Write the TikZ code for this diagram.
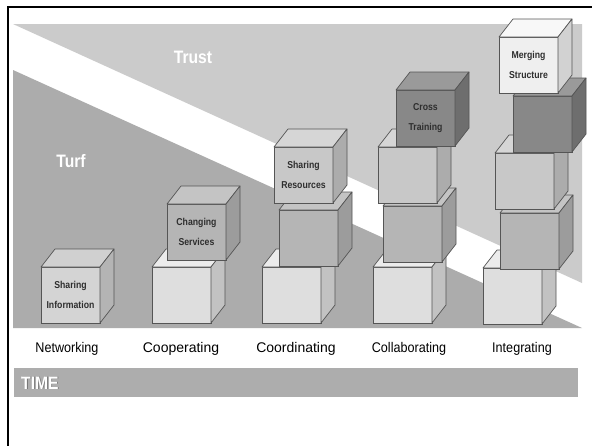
\documentclass[tikz,border=0pt]{standalone}
\usepackage{fontspec}
\setmainfont{Liberation Sans}
\newfontfamily\condsans[FakeStretch=0.87]{Liberation Sans}
\newfontfamily\semisans[FakeStretch=0.9]{Liberation Sans}

% background tones
\definecolor{trustgray}{HTML}{CBCBCB}
\definecolor{turfgray}{HTML}{ACACAC}
\definecolor{timegray}{HTML}{ADADAD}
\definecolor{edgegray}{HTML}{555555}
\definecolor{labelgray}{HTML}{2E2E2E}
% cube tones: front / top / side
\definecolor{basefront}{HTML}{DEDEDE}\definecolor{basetop}{HTML}{ECECEC}\definecolor{baseside}{HTML}{C2C2C2}
\definecolor{infofront}{HTML}{D4D4D4}\definecolor{infotop}{HTML}{D0D0D0}\definecolor{infoside}{HTML}{B4B4B4}
\definecolor{midfront}{HTML}{B5B5B5}\definecolor{midtop}{HTML}{C4C4C4}\definecolor{midside}{HTML}{9C9C9C}
\definecolor{lightfront}{HTML}{C8C8C8}\definecolor{lighttop}{HTML}{D6D6D6}\definecolor{lightside}{HTML}{ACACAC}
\definecolor{darkfront}{HTML}{888888}\definecolor{darktop}{HTML}{9A9A9A}\definecolor{darkside}{HTML}{6E6E6E}
\definecolor{palefront}{HTML}{EFEFEF}\definecolor{paletop}{HTML}{F8F8F8}\definecolor{paleside}{HTML}{D2D2D2}

\tikzset{
  cubefront/.style={draw=edgegray, line width=0.7pt, anchor=north west,
    minimum width=59pt, minimum height=56pt, inner sep=0pt, outer sep=0pt,
    align=center, text=labelgray, font=\condsans\bfseries\fontsize{10}{20}\selectfont},
  cubeedge/.style={draw=edgegray, line width=0.7pt, line join=round},
  stagelabel/.style={anchor=base, text=black, font=\fontsize{14}{16}\selectfont},
  narrowstage/.style={stagelabel, font=\semisans\fontsize{14}{16}\selectfont},
  zonelabel/.style={text=white, font=\condsans\bfseries\fontsize{18}{20}\selectfont}
}

% one block: name, front top-left corner (x,y), tone, label
\newcommand\cubeat[5]{%
  \node[cubefront, fill=#4front] (#1) at (#2,#3) {#5};
  \filldraw[cubeedge, fill=#4top] (#1.north west) -- ++(14,-18) -- ++(59,0) -- (#1.north east) -- cycle;
  \filldraw[cubeedge, fill=#4side] (#1.north east) -- ++(14,-18) -- ++(0,56) -- (#1.south east) -- cycle;
}

\begin{document}
\begin{tikzpicture}[x=1pt, y=-1pt]
  \useasboundingbox (0,0) rectangle (592,445);
  \fill[white] (0,0) rectangle (592,445);

  % trust and turf zones
  \fill[trustgray] (13,24) -- (582,24) -- (582,283) -- cycle;
  \fill[turfgray] (13,70) -- (582,328) -- (13,328) -- cycle;
  \node[zonelabel] (trust) at (193,57) {Trust};
  \node[zonelabel] (turf) at (71,161) {Turf};

  % Networking
  \cubeat{net1}{41}{267}{info}{Sharing\\Information}
  % Cooperating
  \cubeat{coop1}{152}{267}{base}{}
  \cubeat{coop2}{167}{204}{mid}{Changing\\Services}
  % Coordinating
  \cubeat{coord1}{262}{267}{base}{}
  \cubeat{coord2}{279}{210}{mid}{}
  \cubeat{coord3}{274}{147}{light}{Sharing\\Resources}
  % Collaborating
  \cubeat{coll1}{373}{267}{base}{}
  \cubeat{coll2}{383}{206}{mid}{}
  \cubeat{coll3}{378}{147}{light}{}
  \cubeat{coll4}{396}{90}{dark}{Cross\\Training}
  % Integrating
  \cubeat{int1}{483}{268}{base}{}
  \cubeat{int2}{500}{213}{mid}{}
  \cubeat{int3}{495}{153}{light}{}
  \cubeat{int4}{513}{96}{dark}{}
  \cubeat{int5}{499}{37}{pale}{Merging\\Structure}

  % stage names
  \node[narrowstage] (networking) at (67,352) {Networking};
  \node[stagelabel] (cooperating) at (181,352) {Cooperating};
  \node[stagelabel] (coordinating) at (296,352) {Coordinating};
  \node[narrowstage] (collaborating) at (409,352) {Collaborating};
  \node[narrowstage] (integrating) at (522,352) {Integrating};

  % time bar
  \fill[timegray] (14,368) rectangle (578,397);
  \node[anchor=west, inner sep=0pt, text=black!55, font=\condsans\bfseries\fontsize{18}{20}\selectfont] (timeshadow) at (21.8,383.8) {TIME};
  \node[anchor=west, inner sep=0pt, text=white, font=\condsans\bfseries\fontsize{18}{20}\selectfont] (timelabel) at (21,383) {TIME};

  % frame
  \draw[line width=2.5pt, line cap=rect] (8,445) -- (8,7) -- (592,7);
\end{tikzpicture}
\end{document}
